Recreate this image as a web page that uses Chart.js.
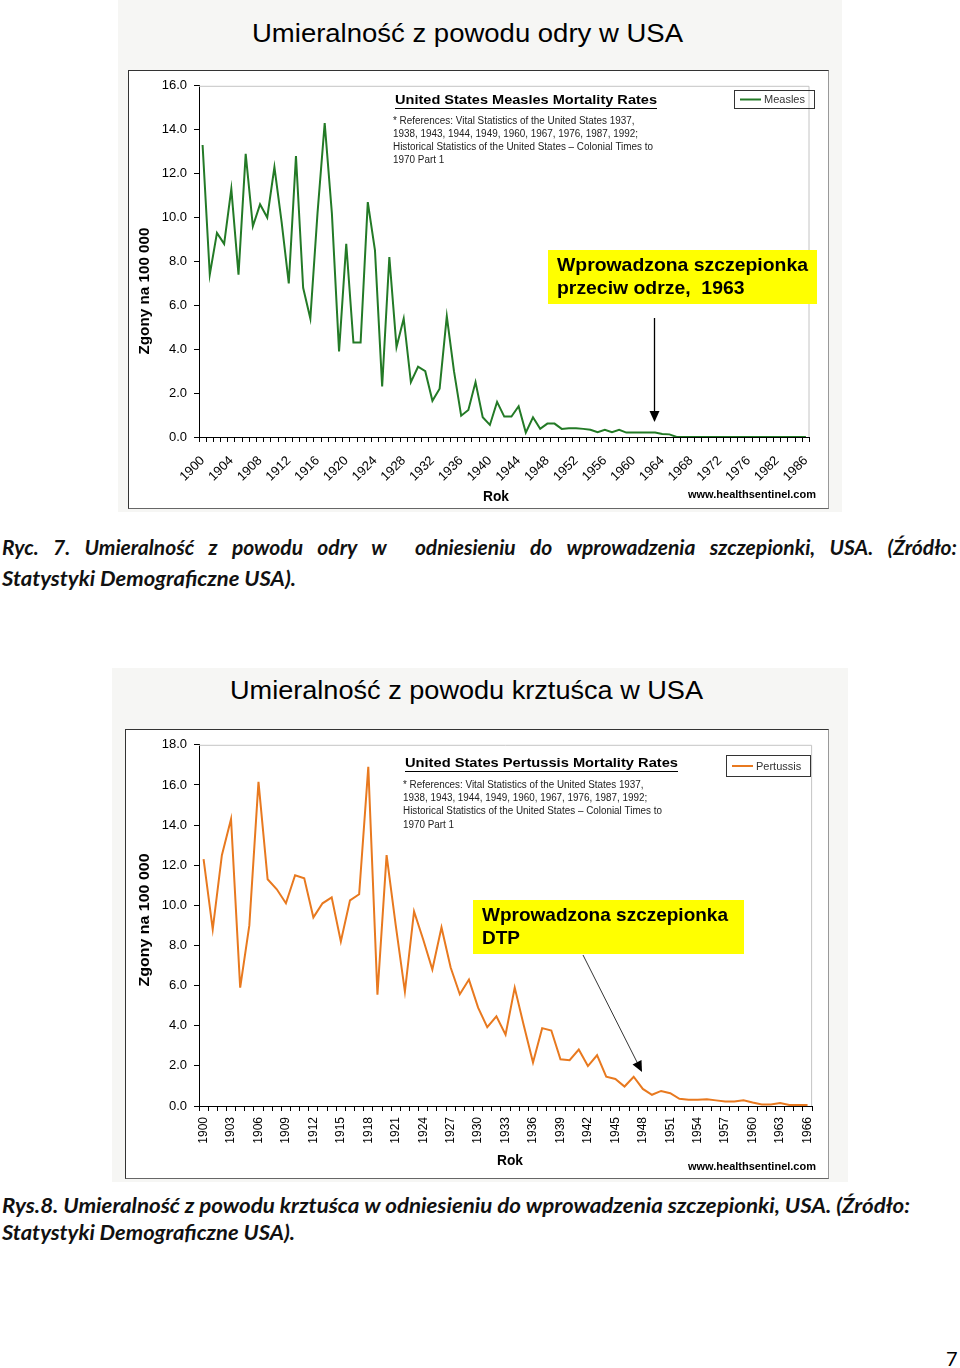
<!DOCTYPE html>
<html lang="pl">
<head>
<meta charset="utf-8">
<script src="https://cdn.jsdelivr.net/npm/chart.js@4.4.1/dist/chart.umd.min.js"></script>
<style>
  body { margin: 0; width: 960px; height: 1368px; background: #fff; position: relative; font-family: "Liberation Sans", Arial, sans-serif; overflow: hidden; }
  .fig { position: absolute; background: #f6f6f4; }
  .tytul { position: absolute; white-space: nowrap; font-size: 26px; line-height: 30px; color: #000; transform-origin: left center; }
  .ramka { position: absolute; background: #fff; border-top: 1px solid #333; border-left: 1px solid #333; border-right: 1px solid #999; border-bottom: 1px solid #666; }
  .ramka canvas { display: block; }
  .podpis { position: absolute; left: 2px; white-space: nowrap; font-family: Lato, "Open Sans", sans-serif; font-style: italic; font-weight: bold; font-size: 21px; line-height: 26px; color: #111; transform-origin: left center; }
  .strona { position: absolute; left: 946px; top: 1346px; font-family: Lato, sans-serif; font-size: 20px; }
</style>
</head>
<body>

<div class="fig" style="left:118px;top:0;width:724px;height:512px"></div>
<div class="tytul" id="t1" style="left:252px;top:18px">Umieralność z powodu odry w USA</div>
<div class="ramka" style="left:128px;top:70px;width:699px;height:437px"><canvas id="odra" width="699" height="437"></canvas></div>

<div class="podpis" id="p1a" style="top:534px">Ryc. 7. Umieralność z powodu odry w&nbsp; odniesieniu do wprowadzenia szczepionki, USA. (Źródło:</div>
<div class="podpis" id="p1b" style="top:565px">Statystyki Demograficzne USA).</div>

<div class="fig" style="left:112px;top:668px;width:736px;height:514px"></div>
<div class="tytul" id="t2" style="left:230px;top:675px">Umieralność z powodu krztuśca w USA</div>
<div class="ramka" style="left:125px;top:729px;width:702px;height:448px"><canvas id="krztusiec" width="702" height="448"></canvas></div>

<div class="podpis" id="p2a" style="top:1192px">Rys.8. Umieralność z powodu krztuśca w odniesieniu do wprowadzenia szczepionki, USA. (Źródło:</div>
<div class="podpis" id="p2b" style="top:1219px">Statystyki Demograficzne USA).</div>

<div class="strona">7</div>

<script>
// lata (kategorie) i zgony na 100 000
const latyOdra = [
    1900, 1901, 1902, 1903, 1904, 1905, 1906, 1907, 1908, 1909,
    1910, 1911, 1912, 1913, 1914, 1915, 1916, 1917, 1918, 1919,
    1920, 1921, 1922, 1923, 1924, 1925, 1926, 1927, 1928, 1929,
    1930, 1931, 1932, 1933, 1934, 1935, 1936, 1937, 1938, 1939,
    1940, 1941, 1942, 1943, 1944, 1945, 1946, 1947, 1948, 1949,
    1950, 1951, 1952, 1953, 1954, 1955, 1956, 1957, 1958, 1959,
    1960, 1961, 1962, 1963, 1964, 1965, 1966, 1967, 1968, 1969,
    1970, 1971, 1972, 1973, 1974, 1975, 1976, 1977, 1978, 1980,
    1982, 1983, 1984, 1985, 1986
];
const odra = [
    13.3, 7.4, 9.3, 8.8, 11.3, 7.4, 12.9, 9.6, 10.6, 10.0,
    12.3, 9.8, 7.0, 12.8, 6.8, 5.4, 10.2, 14.3, 10.2, 3.9,
    8.8, 4.3, 4.3, 10.7, 8.5, 2.3, 8.2, 4.1, 5.4, 2.5,
    3.2, 3.0, 1.65, 2.2, 5.5, 3.0, 0.97, 1.23, 2.5, 0.9,
    0.55, 1.6, 0.93, 0.93, 1.4, 0.2, 0.9, 0.37, 0.61, 0.61,
    0.37, 0.4, 0.4, 0.37, 0.33, 0.22, 0.33, 0.22, 0.33, 0.2,
    0.2, 0.2, 0.2, 0.2, 0.14, 0.12, 0.0, 0, 0, 0,
    0, 0, 0, 0, 0, 0, 0, 0, 0, 0,
    0, 0, 0, 0, 0
];

const latyKrztusiec = [
    1900, 1901, 1902, 1903, 1904, 1905, 1906, 1907, 1908, 1909,
    1910, 1911, 1912, 1913, 1914, 1915, 1916, 1917, 1918, 1919,
    1920, 1921, 1922, 1923, 1924, 1925, 1926, 1927, 1928, 1929,
    1930, 1931, 1932, 1933, 1934, 1935, 1936, 1937, 1938, 1939,
    1940, 1941, 1942, 1943, 1944, 1945, 1946, 1947, 1948, 1949,
    1950, 1951, 1952, 1953, 1954, 1955, 1956, 1957, 1958, 1959,
    1960, 1961, 1962, 1963, 1964, 1965, 1966
];
const krztusiec = [
    12.3, 8.8, 12.5, 14.3, 5.9, 9.0, 16.15, 11.3, 10.8, 10.1,
    11.5, 11.35, 9.4, 10.1, 10.4, 8.2, 10.25, 10.55, 16.9, 5.55,
    12.5, 9.0, 5.7, 9.7, 8.3, 6.8, 8.9, 6.9, 5.57, 6.3,
    4.9, 3.93, 4.47, 3.55, 5.9, 4.0, 2.17, 3.88, 3.76, 2.33,
    2.28, 2.81, 1.99, 2.53, 1.46, 1.35, 0.97, 1.46, 0.85, 0.56,
    0.75, 0.64, 0.36, 0.31, 0.31, 0.34, 0.28, 0.22, 0.22, 0.28,
    0.17, 0.08, 0.08, 0.15, 0.05, 0.05, 0.05
];

const referencje = [
    '* References: Vital Statistics of the United States 1937,',
    '1938, 1943, 1944, 1949, 1960, 1967, 1976, 1987, 1992;',
    'Historical Statistics of the United States \u2013 Colonial Times to',
    '1970 Part 1'
];

const FONT = '"Liberation Sans", Arial, sans-serif';
Chart.defaults.font.family = FONT;
Chart.defaults.color = '#000';

// tekst ściśnięty do zadanej szerokości
function tekst(c, s, x, y, w) {
    const n = c.measureText(s).width;
    const k = w ? w / n : 1;
    c.save();
    c.translate(x, y);
    c.scale(k, 1);
    c.fillText(s, 0, 0);
    c.restore();
}

// napisy, legenda, żółta ramka i strzałka
const adnotacje = {
    id: 'adnotacje',
    afterDraw(chart, args, o) {
        const c = chart.ctx;
        const a = chart.chartArea;
        c.save();

        c.strokeStyle = '#c4c4c4';
        c.lineWidth = 1;
        c.beginPath();
        c.moveTo(a.left, a.top + 0.5);
        c.lineTo(a.right - 0.5, a.top + 0.5);
        c.lineTo(a.right - 0.5, a.bottom);
        c.stroke();

        c.fillStyle = '#000';
        c.textBaseline = 'middle';
        c.textAlign = 'left';

        // nagłówek podkreślony
        c.font = 'bold 13px ' + FONT;
        tekst(c, o.naglowek, o.nx, o.ny, o.nw);
        c.fillRect(o.nx, o.ny + 8, o.nw, 1);

        c.fillStyle = '#222';
        c.font = '10px ' + FONT;
        const k = o.rw / c.measureText(referencje[2]).width;
        referencje.forEach((s, i) => {
            tekst(c, s, o.nx - 2, o.ry + i * o.rdy, c.measureText(s).width * k);
        });

        // legenda
        c.strokeStyle = '#333';
        c.lineWidth = 1;
        c.strokeRect(o.lx + 0.5, o.ly + 0.5, o.lw, o.lh);
        c.strokeStyle = chart.data.datasets[0].borderColor;
        c.lineWidth = 2;
        c.beginPath();
        c.moveTo(o.lx + 6, o.ly + o.lh / 2 + 0.5);
        c.lineTo(o.lx + 27, o.ly + o.lh / 2 + 0.5);
        c.stroke();
        c.fillStyle = '#333';
        c.font = '11px ' + FONT;
        c.fillText(chart.data.datasets[0].label, o.lx + 30, o.ly + o.lh / 2 + 1);

        // żółta ramka
        c.fillStyle = '#ffff00';
        c.fillRect(o.bx, o.by, o.bw, o.bh);
        c.fillStyle = '#000';
        c.font = 'bold 19px ' + FONT;
        const kb = o.tw / c.measureText(o.ramka[0]).width;
        o.ramka.forEach((s, i) => {
            tekst(c, s, o.bx + 9, o.by + 16 + i * 23, c.measureText(s).width * kb);
        });

        // strzałka
        const [x1, y1, x2, y2] = o.strzalka;
        const kat = Math.atan2(y2 - y1, x2 - x1);
        c.strokeStyle = '#000';
        c.lineWidth = o.gr;
        c.beginPath();
        c.moveTo(x1, y1);
        c.lineTo(x2 - 9 * Math.cos(kat), y2 - 9 * Math.sin(kat));
        c.stroke();
        c.beginPath();
        c.moveTo(x2, y2);
        c.lineTo(x2 - 11 * Math.cos(kat) + 5 * Math.sin(kat), y2 - 11 * Math.sin(kat) - 5 * Math.cos(kat));
        c.lineTo(x2 - 11 * Math.cos(kat) - 5 * Math.sin(kat), y2 - 11 * Math.sin(kat) + 5 * Math.cos(kat));
        c.closePath();
        c.fill();

        // tytuły osi
        c.font = 'bold 14px ' + FONT;
        c.save();
        c.translate(o.yx, o.yy);
        c.rotate(-Math.PI / 2);
        c.textAlign = 'left';
        tekst(c, 'Zgony na 100 000', -o.yw / 2, 0, o.yw);
        c.restore();
        c.font = 'bold 15px ' + FONT;
        tekst(c, 'Rok', o.rokx - 13, o.roky, 26);

        c.font = 'bold 10px ' + FONT;
        tekst(c, 'www.healthsentinel.com', o.hx, o.hy, 128);

        c.restore();
    }
};

function skalaX(krok, obrot, wys, pad, rozm) {
    return {
        type: 'category',
        offset: true,
        grid: { offset: true, drawOnChartArea: false, drawTicks: true, tickLength: 5, color: '#000' },
        border: { color: '#000', width: 1 },
        ticks: {
            autoSkip: false,
            minRotation: obrot,
            maxRotation: obrot,
            padding: pad,
            font: { size: rozm },
            callback: function (val, i) {
                return i % krok === 0 ? this.getLabelForValue(val) : '';
            }
        },
        afterFit: s => { s.height = wys; }
    };
}

function skalaY(max, szer) {
    return {
        min: 0,
        max: max,
        grid: { drawOnChartArea: false, drawTicks: true, tickLength: 5, color: '#000' },
        border: { color: '#000', width: 1 },
        ticks: {
            stepSize: 2,
            padding: 7,
            font: { size: 13 },
            callback: v => v.toFixed(1)
        },
        afterFit: s => { s.width = szer; }
    };
}

const wykresOdra = new Chart(document.getElementById('odra').getContext('2d'), {
    type: 'line',
    data: {
        labels: latyOdra,
        datasets: [{
            label: 'Measles',
            data: odra,
            borderColor: '#237a26',
            borderWidth: 2,
            pointRadius: 0,
            tension: 0
        }]
    },
    options: {
        responsive: false,
        animation: false,
        layout: { padding: { top: 11, right: 8, left: 0, bottom: 0 } },
        scales: {
            x: skalaX(4, 45, 71, 11, 13),
            y: skalaY(16, 70)
        },
        plugins: {
            legend: { display: false },
            tooltip: { enabled: false },
            adnotacje: {
                naglowek: 'United States Measles Mortality Rates',
                nx: 266, ny: 29, nw: 262,
                ry: 50, rdy: 13, rw: 260,
                lx: 605, ly: 19, lw: 80, lh: 18,
                bx: 419, by: 179, bw: 269, bh: 54, tw: 251,
                ramka: ['Wprowadzona szczepionka', 'przeciw odrze,  1963'],
                strzalka: [525.5, 247, 525.5, 351], gr: 1.3,
                yx: 16, yy: 220, yw: 127,
                rokx: 367, roky: 426,
                hx: 559, hy: 424
            }
        }
    },
    plugins: [adnotacje]
});

const wykresKrztusiec = new Chart(document.getElementById('krztusiec').getContext('2d'), {
    type: 'line',
    data: {
        labels: latyKrztusiec,
        datasets: [{
            label: 'Pertussis',
            data: krztusiec,
            borderColor: '#e8791f',
            borderWidth: 2,
            pointRadius: 0,
            tension: 0
        }]
    },
    options: {
        responsive: false,
        animation: false,
        layout: { padding: { top: 13, right: 8, left: 0, bottom: 0 } },
        scales: {
            x: skalaX(3, 90, 72, 6, 12),
            y: skalaY(18, 73)
        },
        plugins: {
            legend: { display: false },
            tooltip: { enabled: false },
            adnotacje: {
                naglowek: 'United States Pertussis Mortality Rates',
                nx: 279, ny: 33, nw: 273,
                ry: 55, rdy: 13.3, rw: 259,
                lx: 600, ly: 25, lw: 84, lh: 21,
                bx: 347, by: 170, bw: 271, bh: 54, tw: 246,
                ramka: ['Wprowadzona szczepionka', 'DTP'],
                strzalka: [457, 225, 516, 342], gr: 0.8,
                yx: 19, yy: 190, yw: 133,
                rokx: 384, roky: 431,
                hx: 562, hy: 437
            }
        }
    },
    plugins: [adnotacje]
});

// dopasowanie szerokości tytułów i podpisów
function dopasuj(id, szer) {
    const el = document.getElementById(id);
    const w = el.getBoundingClientRect().width;
    el.style.transform = 'scaleX(' + (szer / w) + ')';
}
function wyjustuj(id, szer) {
    const el = document.getElementById(id);
    const n = el.textContent.split(/[ \u00a0]/).length - 1;
    for (let i = 0; i < 3; i++) {
        const w = el.getBoundingClientRect().width;
        const biezace = parseFloat(el.style.wordSpacing) || 0;
        el.style.wordSpacing = (biezace + (szer - w) / n) + 'px';
    }
    if (el.getBoundingClientRect().width > szer + 1) {
        dopasuj(id, szer);
    }
}
dopasuj('t1', 431);
dopasuj('t2', 473);
wyjustuj('p1a', 955);
dopasuj('p1b', 294);
dopasuj('p2a', 908);
dopasuj('p2b', 293);
</script>
</body>
</html>
